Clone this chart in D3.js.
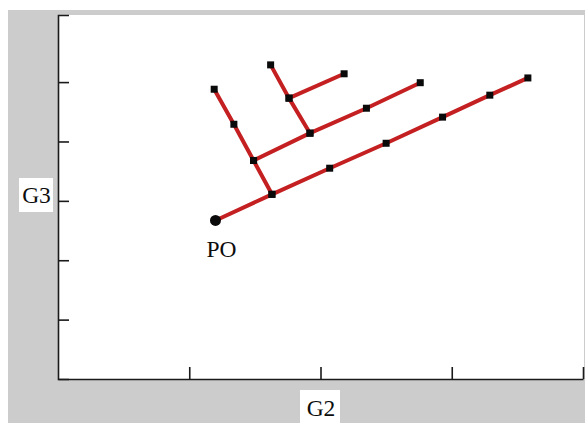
<!DOCTYPE html>
<html>
<head>
<meta charset="utf-8">
<script src="https://cdn.jsdelivr.net/npm/d3@7"></script>
<style>
  html, body { margin: 0; padding: 0; background: #ffffff; }
  svg { display: block; }
</style>
</head>
<body>
<svg id="chart" width="585" height="423"></svg>
<script>
// Trunk from PO and the branches growing out of it (G2 horizontal, G3 vertical)
const trunkG2   = [1.20, 1.63, 2.07, 2.50, 2.93, 3.29, 3.58];
const trunkG3   = [2.67, 3.11, 3.55, 3.97, 4.41, 4.78, 5.07];
const branchAG2 = [1.63, 1.49, 1.34, 1.19];
const branchAG3 = [3.11, 3.68, 4.29, 4.88];
const branchBG2 = [1.49, 1.92, 2.35, 2.76];
const branchBG3 = [3.68, 4.14, 4.56, 4.99];
const branchCG2 = [1.92, 1.76, 1.62];
const branchCG3 = [4.14, 4.73, 5.29];
const branchDG2 = [1.76, 2.18];
const branchDG3 = [4.73, 5.14];

const xTicks = [1, 2, 3, 4];
const yTicks = [1, 2, 3, 4, 5];
const xTitle = "G2";
const yTitle = "G3";
const originLabel = "PO";

const svg = d3.select("#chart");
const serif = "'Liberation Serif', 'Times New Roman', serif";

// Background frame
svg.append("rect").attr("x", 8).attr("y", 10).attr("width", 577).attr("height", 413).attr("fill", "#cccccc");

const plot = { left: 58, right: 583, top: 15, bottom: 379 };
svg.append("rect").attr("x", plot.left).attr("y", plot.top)
  .attr("width", plot.right - plot.left + 1).attr("height", plot.bottom - plot.top).attr("fill", "#ffffff");

const x = d3.scaleLinear().domain([0, 4]).range([plot.left, plot.right]);
const y = d3.scaleLinear().domain([0, 6.13]).range([plot.bottom, plot.top]);

// Axes with inward ticks and no labels
const xAxis = d3.axisBottom(x).tickValues(xTicks).tickSize(-12).tickSizeOuter(0).tickFormat("");
const yAxis = d3.axisLeft(y).tickValues(yTicks).tickSize(-11).tickSizeOuter(-11).tickFormat("");

const gx = svg.append("g").attr("transform", `translate(0,${plot.bottom})`).call(xAxis);
const gy = svg.append("g").attr("transform", `translate(${plot.left},0)`).call(yAxis);
[gx, gy].forEach(g => {
  g.selectAll("path.domain").attr("stroke", "#1a1a1a").attr("stroke-width", 1.6);
  g.selectAll(".tick line").attr("stroke", "#1a1a1a").attr("stroke-width", 1.6);
});

// Branches
const series = [
  [trunkG2, trunkG3],
  [branchAG2, branchAG3],
  [branchBG2, branchBG3],
  [branchCG2, branchCG3],
  [branchDG2, branchDG3]
].map(([gs, hs]) => gs.map((g, i) => [g, hs[i]]));

const line = d3.line().x(d => x(d[0])).y(d => y(d[1]));
svg.append("g").selectAll("path").data(series).join("path")
  .attr("d", line)
  .attr("fill", "none")
  .attr("stroke", "#c42022")
  .attr("stroke-width", 4)
  .attr("stroke-linecap", "butt");

// Node markers
const nodes = series.flat();
const s = 7;
svg.append("g").selectAll("rect").data(nodes).join("rect")
  .attr("x", d => x(d[0]) - s / 2)
  .attr("y", d => y(d[1]) - s / 2)
  .attr("width", s).attr("height", s)
  .attr("fill", "#0a0a0a");

// Origin marker
const po = [trunkG2[0], trunkG3[0]];
svg.append("circle").attr("cx", x(po[0])).attr("cy", y(po[1])).attr("r", 5.5).attr("fill", "#0a0a0a");

svg.append("text")
  .attr("x", x(po[0]) - 9).attr("y", y(po[1]) + 37)
  .attr("font-family", serif).attr("font-size", 23.5).attr("fill", "#0d0d0d")
  .text(originLabel);

// Axis titles on white boxes
svg.append("rect").attr("x", 19).attr("y", 178).attr("width", 34).attr("height", 34).attr("fill", "#ffffff");
svg.append("text").attr("x", 36.5).attr("y", 203).attr("text-anchor", "middle")
  .attr("font-family", serif).attr("font-size", 23.5).attr("fill", "#0d0d0d").text(yTitle);

svg.append("rect").attr("x", 300).attr("y", 390).attr("width", 40).attr("height", 33).attr("fill", "#ffffff");
svg.append("text").attr("x", 321).attr("y", 416).attr("text-anchor", "middle")
  .attr("font-family", serif).attr("font-size", 23.5).attr("fill", "#0d0d0d").text(xTitle);
</script>
</body>
</html>
